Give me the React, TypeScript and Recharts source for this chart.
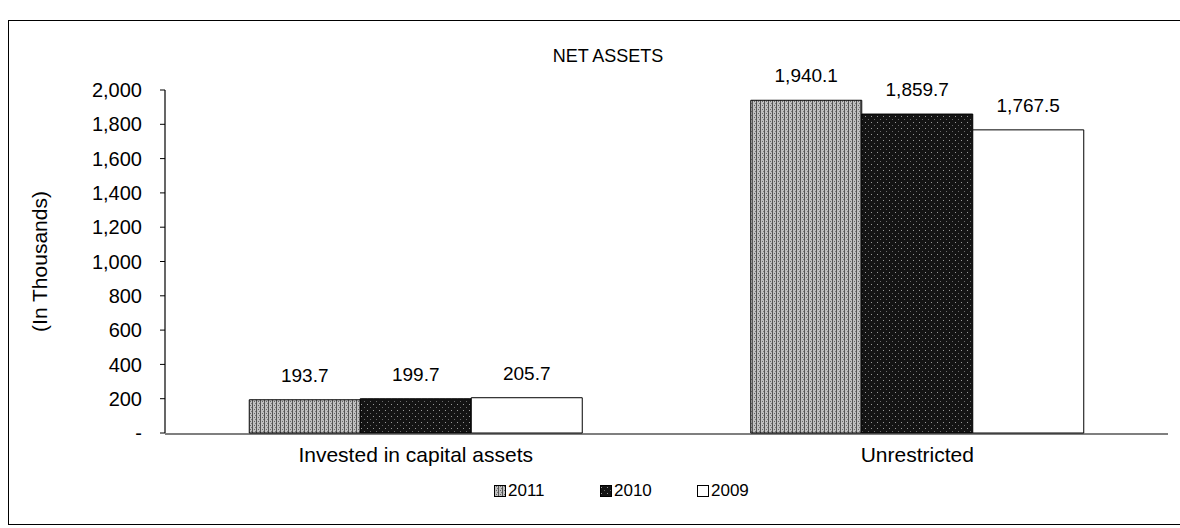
import React from 'react';
import { BarChart, Bar, XAxis, YAxis, LabelList, Legend } from 'recharts';

const categories = ['Invested in capital assets', 'Unrestricted'];
const values2011 = [193.7, 1940.1];
const values2010 = [199.7, 1859.7];
const values2009 = [205.7, 1767.5];
const seriesNames = ['2011', '2010', '2009'];
const yTicks = [0, 200, 400, 600, 800, 1000, 1200, 1400, 1600, 1800, 2000];
const edgeTicks = [0, 1, 2];
const chartTitle = 'NET ASSETS';
const yAxisTitle = '(In Thousands)';

const data = categories.map((c, i) => ({
  name: c,
  y2011: values2011[i],
  y2010: values2010[i],
  y2009: values2009[i],
}));

const FONT = "Arial, 'Liberation Sans', sans-serif";
const fills = ['url(#p2011)', 'url(#p2010)', '#ffffff'];
const legendLefts = [494, 600, 697];

const fmtTick = (v: number) => (v === 0 ? '-' : v.toLocaleString('en-US'));
const fmtVal = (v: any) =>
  Number(v).toLocaleString('en-US', { minimumFractionDigits: 1, maximumFractionDigits: 1 });

const LegendContent = () => (
  <div style={{ position: 'relative', width: 1180, height: 22, fontFamily: FONT, fontSize: 17 }}>
    {seriesNames.map((s, i) => (
      <div key={s} style={{ position: 'absolute', left: legendLefts[i], top: 0, display: 'flex', alignItems: 'center', lineHeight: '22px' }}>
        <svg width={12} height={12} style={{ marginRight: 2 }}>
          <rect x={0.5} y={0.5} width={11} height={11} fill={fills[i]} stroke="#000" strokeWidth={1} />
        </svg>
        <span style={{ color: '#000' }}>{s}</span>
      </div>
    ))}
  </div>
);

export default function App() {
  return (
    <div style={{ position: 'absolute', left: 0, top: 0, width: 1180, height: 528, background: '#fff', overflow: 'hidden' }}>
      <svg width={0} height={0} style={{ position: 'absolute' }}>
        <defs>
          <pattern id="p2011" width={4} height={4} patternUnits="userSpaceOnUse">
            <rect width={4} height={4} fill="#c0c0c0" />
            <rect x={0} y={0} width={1} height={4} fill="#555555" />
            <rect x={2} y={1} width={1} height={1} fill="#666666" />
            <rect x={3} y={3} width={1} height={1} fill="#7a7a7a" />
          </pattern>
          <pattern id="p2010" width={6} height={6} patternUnits="userSpaceOnUse">
            <rect width={6} height={6} fill="#141414" />
            <rect x={1} y={2} width={1} height={1} fill="#9a9a9a" />
            <rect x={4} y={5} width={1} height={1} fill="#6a6a6a" />
          </pattern>
        </defs>
      </svg>
      <div
        style={{
          position: 'absolute',
          left: 8,
          top: 20,
          width: 1180,
          height: 503,
          borderTop: '1px solid #000',
          borderLeft: '1px solid #000',
          borderBottom: '1px solid #000',
        }}
      />
      <div
        style={{
          position: 'absolute',
          left: 0,
          width: 1216,
          top: 46,
          textAlign: 'center',
          fontFamily: FONT,
          fontSize: 18,
          color: '#000',
        }}
      >
        {chartTitle}
      </div>
      <div style={{ position: 'absolute', left: 0, top: 0 }}>
        <BarChart
          width={1180}
          height={528}
          data={data}
          margin={{ top: 90, right: 12, left: 20, bottom: 93 }}
          barGap={0}
          barCategoryGap="16.8%"
        >
          <XAxis
            xAxisId="edges"
            type="number"
            domain={[0, 2]}
            ticks={edgeTicks}
            tick={false}
            tickSize={6}
            height={1}
            allowDataOverflow
            axisLine={{ stroke: '#000', strokeWidth: 1.2 }}
            tickLine={{ stroke: '#000', strokeWidth: 1.2 }}
          />
          <XAxis
            dataKey="name"
            type="category"
            axisLine={false}
            tickLine={false}
            tickSize={0}
            tickMargin={14}
            height={1}
            tick={{ fill: '#000', fontSize: 21, fontFamily: FONT }}
          />
          <YAxis
            width={145}
            domain={[0, 2000]}
            ticks={yTicks}
            interval={0}
            tickFormatter={fmtTick}
            tickSize={5}
            tickMargin={18}
            axisLine={{ stroke: '#000', strokeWidth: 1.2 }}
            tickLine={{ stroke: '#000', strokeWidth: 1 }}
            tick={{ fill: '#000', fontSize: 20, fontFamily: FONT }}
            label={{
              value: yAxisTitle,
              angle: -90,
              position: 'insideLeft',
              offset: 20,
              style: { textAnchor: 'middle', fontSize: 21, fontFamily: FONT, fill: '#000' },
            }}
          />
          <Legend
            layout="vertical"
            align="center"
            verticalAlign="middle"
            content={<LegendContent />}
            wrapperStyle={{ position: 'absolute', left: 0, top: 480, width: 1180 }}
          />
          {['y2011', 'y2010', 'y2009'].map((k, i) => (
            <Bar
              key={k}
              dataKey={k}
              name={seriesNames[i]}
              fill={fills[i]}
              stroke="#000"
              strokeWidth={1}
              isAnimationActive={false}
            >
              <LabelList
                dataKey={k}
                position="top"
                offset={18}
                formatter={fmtVal}
                style={{ fill: '#000', fontSize: 19, fontFamily: FONT }}
              />
            </Bar>
          ))}
        </BarChart>
      </div>
    </div>
  );
}
